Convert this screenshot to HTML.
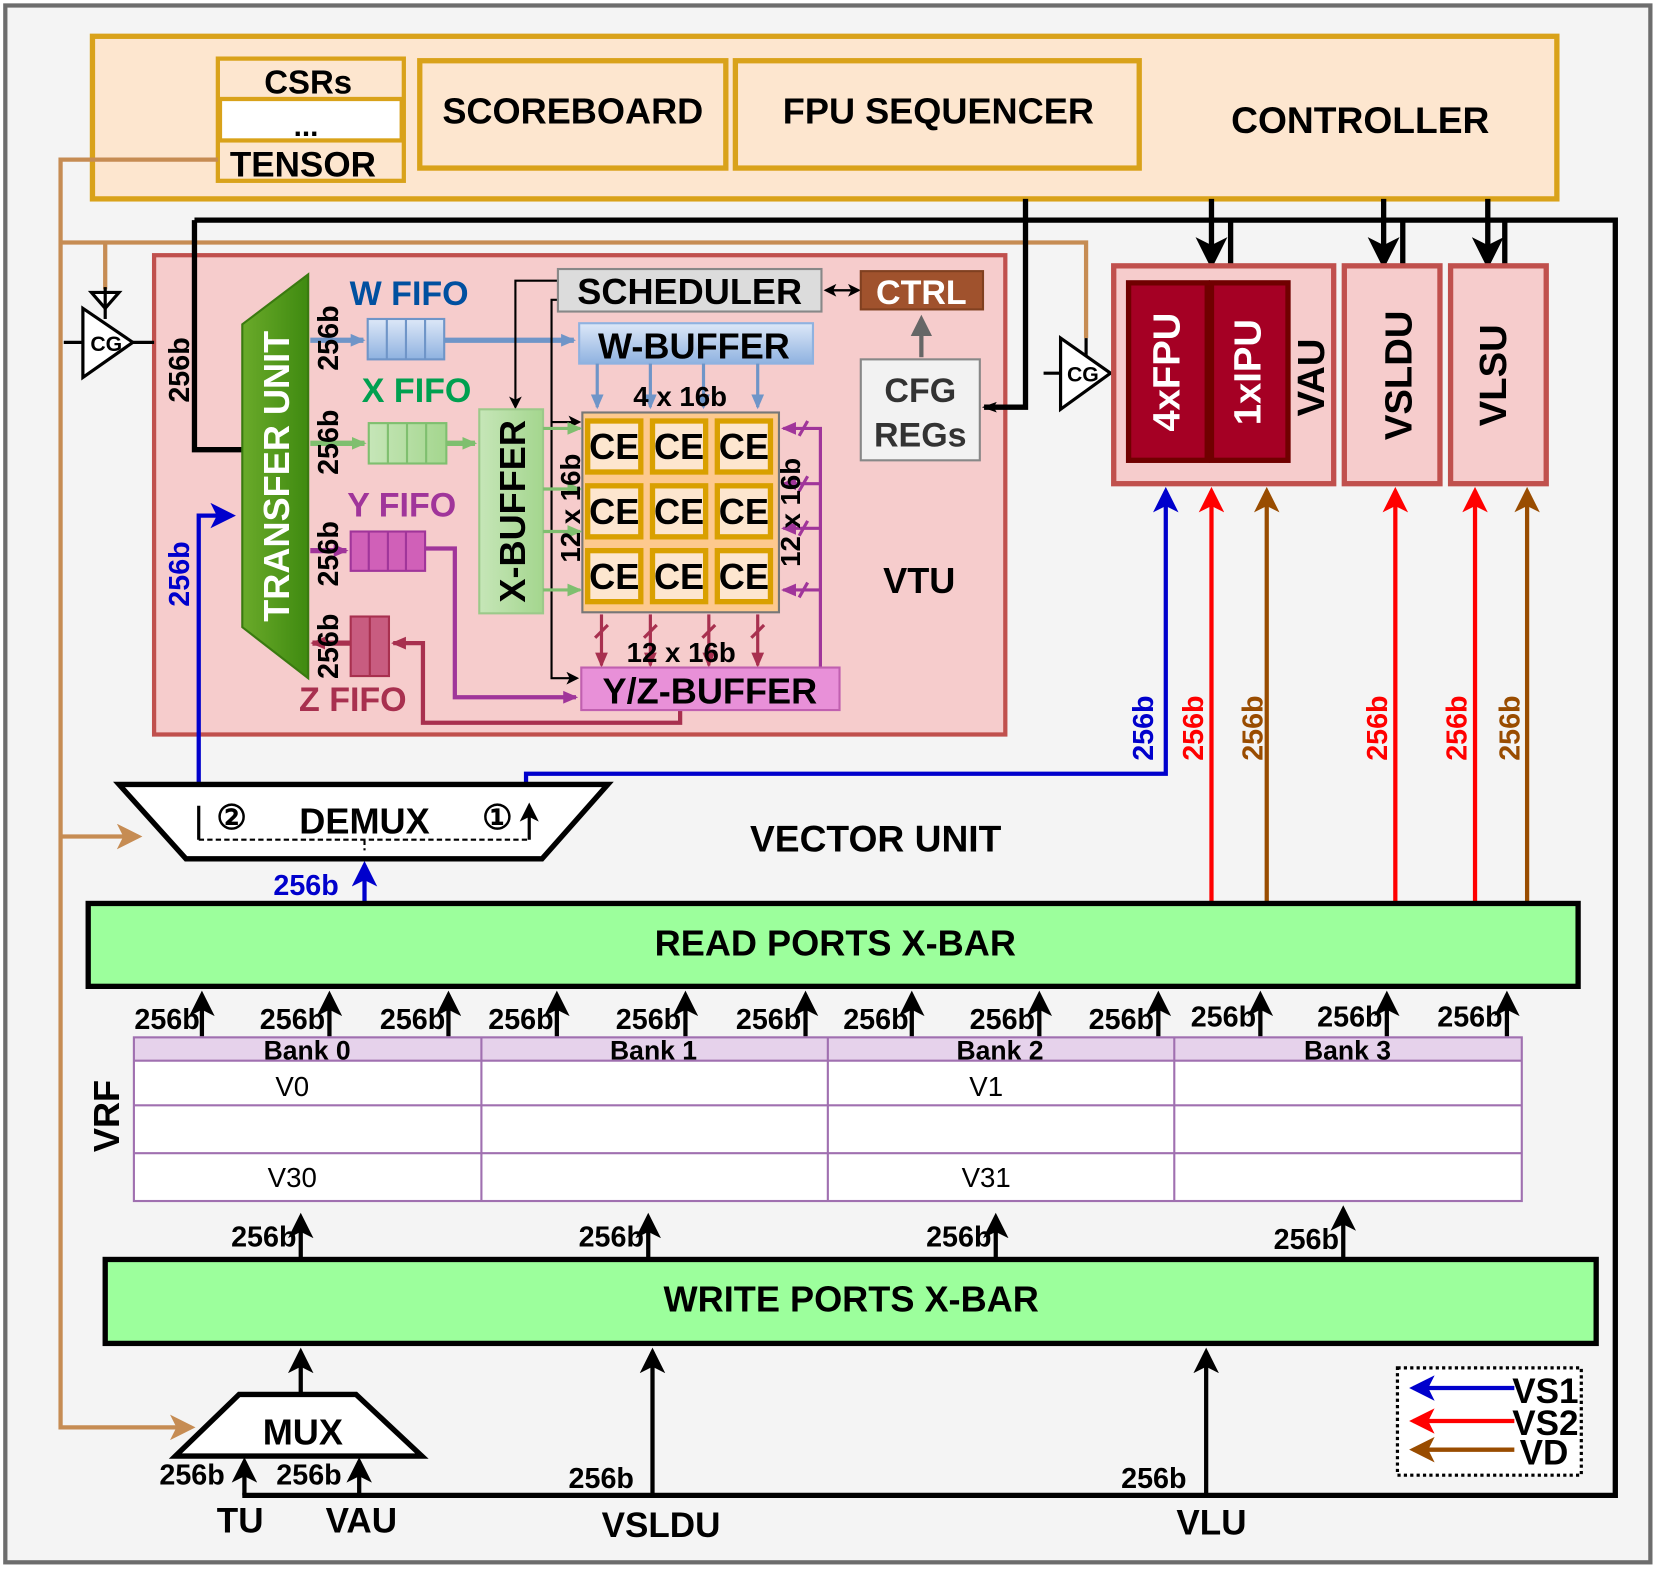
<!DOCTYPE html>
<html><head><meta charset="utf-8"><style>html,body{margin:0;padding:0;background:#fff}svg{display:block}text{font-family:"Liberation Sans",Arial,sans-serif;font-weight:bold}</style></head><body>
<svg width="1661" height="1571" viewBox="0 0 1563 1478" xmlns="http://www.w3.org/2000/svg">
<defs>
<marker id="ak" markerWidth="6" markerHeight="6" refX="5" refY="3" orient="auto" markerUnits="strokeWidth"><path d="M0,0 L6,3 L0,6 L1.5,3z" fill="#000"/></marker>
<marker id="ak2" markerWidth="14" markerHeight="10" refX="12" refY="5" orient="auto" markerUnits="userSpaceOnUse"><path d="M0,0 L14,5 L0,10 L3,5z" fill="#000"/></marker>
<marker id="ab" markerWidth="6" markerHeight="6" refX="5" refY="3" orient="auto" markerUnits="strokeWidth"><path d="M0,0 L6,3 L0,6 L1.5,3z" fill="#0000cc"/></marker>
<marker id="ar" markerWidth="6" markerHeight="6" refX="5" refY="3" orient="auto" markerUnits="strokeWidth"><path d="M0,0 L6,3 L0,6 L1.5,3z" fill="#ff0000"/></marker>
<marker id="ao" markerWidth="6" markerHeight="6" refX="5" refY="3" orient="auto" markerUnits="strokeWidth"><path d="M0,0 L6,3 L0,6 L1.5,3z" fill="#994c00"/></marker>
<marker id="at" markerWidth="6" markerHeight="6" refX="5" refY="3" orient="auto" markerUnits="strokeWidth"><path d="M0,0 L6,3 L0,6 L1.5,3z" fill="#c68c53"/></marker>
<marker id="aw" markerWidth="14" markerHeight="14" refX="12" refY="7" orient="auto" markerUnits="userSpaceOnUse"><path d="M0,1 L14,7 L0,13z" fill="#6f95c8"/></marker>
<marker id="ag" markerWidth="14" markerHeight="14" refX="12" refY="7" orient="auto" markerUnits="userSpaceOnUse"><path d="M0,1 L14,7 L0,13z" fill="#7fbf6f"/></marker>
<marker id="ap" markerWidth="14" markerHeight="14" refX="12" refY="7" orient="auto" markerUnits="userSpaceOnUse"><path d="M0,1 L14,7 L0,13z" fill="#a0359a"/></marker>
<marker id="ac" markerWidth="14" markerHeight="14" refX="12" refY="7" orient="auto" markerUnits="userSpaceOnUse"><path d="M0,1 L14,7 L0,13z" fill="#a8304f"/></marker>
<marker id="ay" markerWidth="5" markerHeight="5" refX="4" refY="2.5" orient="auto" markerUnits="strokeWidth"><path d="M0,0 L5,2.5 L0,5z" fill="#666"/></marker>
<linearGradient id="gw" x1="0" x2="0" y1="0" y2="1"><stop offset="0" stop-color="#dde8f8"/><stop offset="1" stop-color="#8fb2e0"/></linearGradient>
<linearGradient id="gx" x1="0" x2="1"><stop offset="0" stop-color="#c6e6b8"/><stop offset="1" stop-color="#a4d68e"/></linearGradient>
<linearGradient id="gt" x1="0" x2="1"><stop offset="0" stop-color="#6aaa2a"/><stop offset="1" stop-color="#3f8a10"/></linearGradient>
</defs>
<rect x="5" y="5" width="1548" height="1465" fill="#f4f4f4" stroke="#6d6d6d" stroke-width="4"/>
<!-- controller -->
<rect x="87" y="34" width="1378" height="153" fill="#fde6cf" stroke="#d9a21a" stroke-width="5"/>
<rect x="205" y="55" width="175" height="115" fill="#fde6cf" stroke="#d9a21a" stroke-width="4"/>
<rect x="207" y="93" width="171" height="39" fill="#fff" stroke="#d9a21a" stroke-width="4"/>
<text x="290" y="88" font-size="31" text-anchor="middle">CSRs</text>
<text x="288" y="128" font-size="28" text-anchor="middle">...</text>
<text x="285" y="166" font-size="33" text-anchor="middle">TENSOR</text>
<rect x="395" y="57" width="288" height="101" fill="#fde6cf" stroke="#d9a21a" stroke-width="5"/>
<text x="539" y="116" font-size="34" text-anchor="middle">SCOREBOARD</text>
<rect x="692" y="57" width="380" height="101" fill="#fde6cf" stroke="#d9a21a" stroke-width="5"/>
<text x="883" y="116" font-size="34" text-anchor="middle">FPU SEQUENCER</text>
<text x="1280" y="125" font-size="35" text-anchor="middle">CONTROLLER</text>
<!-- tan lines -->
<g fill="none" stroke="#c68c53" stroke-width="4">
<path d="M205,150 H57 V1343 H180" marker-end="url(#at)"/>
<path d="M57,787 H130" marker-end="url(#at)"/>
<path d="M57,228 H1022 V318"/>
<path d="M99,228 V272"/>
</g>
<!-- VTU -->
<rect x="145" y="240" width="801" height="451" fill="#f6cccc" stroke="#c0504d" stroke-width="4"/>
<!-- black bus -->
<g fill="none" stroke="#000" stroke-width="5">
<path d="M183,207 H1520 V1407 H228"/>
<path d="M183,207 V423 H228"/>
<path d="M965,187 V383 H926" marker-end="url(#ak2)"/>
<path d="M1140,187 V248" marker-end="url(#ak)"/><path d="M1158,207 V250"/>
<path d="M1302,187 V248" marker-end="url(#ak)"/><path d="M1320,207 V250"/>
<path d="M1400,187 V248" marker-end="url(#ak)"/><path d="M1416,207 V250"/>
</g>
<text x="865" y="558" font-size="34" text-anchor="middle">VTU</text>
<polygon points="228,305 290,258 290,638 228,590" fill="url(#gt)" stroke="#3a7a10" stroke-width="2"/>
<text transform="translate(272,448) rotate(-90)" font-size="34" fill="#fff" text-anchor="middle">TRANSFER UNIT</text>
<text transform="translate(178,348) rotate(-90)" font-size="27" text-anchor="middle">256b</text>
<!-- CG triangles -->
<g stroke="#000" stroke-width="3" fill="#fff">
<polygon points="78,290 78,355 125,322"/><line x1="60" y1="322" x2="78" y2="322"/><line x1="125" y1="322" x2="145" y2="322"/>
<polygon points="86,275 112,275 99,290" /><line x1="99" y1="270" x2="99" y2="300"/>
<polygon points="998,318 998,385 1045,351"/><line x1="982" y1="351" x2="998" y2="351"/><line x1="1045" y1="351" x2="1062" y2="351"/><line x1="1022" y1="318" x2="1022" y2="335"/>
</g>
<text x="100" y="330" font-size="20" text-anchor="middle">CG</text>
<text x="1019" y="359" font-size="20" text-anchor="middle">CG</text>
<!-- FIFOs -->
<text x="385" y="287" font-size="32" fill="#0050a0" text-anchor="middle">W FIFO</text>
<text x="392" y="378" font-size="32" fill="#00a050" text-anchor="middle">X FIFO</text>
<text x="378" y="486" font-size="32" fill="#a0359a" text-anchor="middle">Y FIFO</text>
<text x="332" y="669" font-size="32" fill="#a8304f" text-anchor="middle">Z FIFO</text>
<g stroke-width="5" fill="none">
<path d="M292,320 H342" stroke="#6f95c8" marker-end="url(#aw)"/>
<path d="M418,320 H540" stroke="#6f95c8" marker-end="url(#aw)"/>
<path d="M292,417 H343" stroke="#7fbf6f" marker-end="url(#ag)"/>
<path d="M420,417 H447" stroke="#7fbf6f" marker-end="url(#ag)"/>
<path d="M292,518 H326" stroke="#a0359a" marker-end="url(#ap)"/>
<path d="M400,516 H428 V656 H542" stroke="#a0359a" stroke-width="4" marker-end="url(#ap)"/>
<path d="M330,605 H294" stroke="#a8304f" marker-end="url(#ac)"/>
<path d="M640,668 V680 H398 V605 H370" stroke="#a8304f" stroke-width="4" marker-end="url(#ac)"/>
</g>
<g font-size="27" text-anchor="middle">
<text transform="translate(318,318) rotate(-90)">256b</text>
<text transform="translate(318,416) rotate(-90)">256b</text>
<text transform="translate(318,521) rotate(-90)">256b</text>
<text transform="translate(318,608) rotate(-90)">256b</text>
</g>
<rect x="346" y="300" width="72" height="38" fill="url(#gw)" stroke="#6f95c8" stroke-width="2"/>
<path d="M364,300V338M382,300V338M400,300V338" stroke="#6f95c8" stroke-width="2"/>
<rect x="347" y="398" width="73" height="38" fill="url(#gx)" stroke="#7fbf6f" stroke-width="2"/>
<path d="M365,398V436M383,398V436M401,398V436" stroke="#7fbf6f" stroke-width="2"/>
<rect x="330" y="500" width="70" height="37" fill="#d060b8" stroke="#a0359a" stroke-width="2"/>
<path d="M347,500V537M365,500V537M382,500V537" stroke="#a0359a" stroke-width="2"/>
<rect x="330" y="580" width="36" height="56" fill="#c85c80" stroke="#a8304f" stroke-width="2"/>
<path d="M348,580V636" stroke="#a8304f" stroke-width="2"/>
<!-- scheduler etc -->
<g fill="none" stroke="#000" stroke-width="2">
<path d="M525,264 H485 V383" marker-end="url(#ak)"/>
<path d="M525,282 H519 V638 H543" marker-end="url(#ak)"/>
<path d="M519,397 H545" marker-end="url(#ak)"/>
<path d="M780,273 H808" marker-end="url(#ak)" /><path d="M800,273 H777" marker-end="url(#ak)"/>
</g>
<rect x="451" y="385" width="60" height="192" fill="url(#gx)" stroke="#9cc98a" stroke-width="2"/>
<text transform="translate(494,481) rotate(-90)" font-size="34" text-anchor="middle">X-BUFFER</text>
<rect x="525" y="253" width="248" height="40" fill="#dcdcdc" stroke="#888" stroke-width="2"/>
<text x="649" y="286" font-size="34" text-anchor="middle">SCHEDULER</text>
<rect x="810" y="255" width="115" height="36" fill="#a0522d" stroke="#804020" stroke-width="2"/>
<text x="867" y="286" font-size="32" fill="#fff" text-anchor="middle">CTRL</text>
<path d="M867,336 V300" stroke="#666" stroke-width="4" marker-end="url(#ay)"/>
<rect x="810" y="338" width="112" height="95" fill="#f2f2f2" stroke="#888" stroke-width="2"/>
<text x="866" y="378" font-size="32" fill="#333" text-anchor="middle">CFG</text>
<text x="866" y="420" font-size="32" fill="#333" text-anchor="middle">REGs</text>
<rect x="545" y="304" width="220" height="38" fill="url(#gw)" stroke="#8fb2e0" stroke-width="2"/>
<text x="653" y="337" font-size="34" text-anchor="middle">W-BUFFER</text>
<g stroke="#6f95c8" stroke-width="3" fill="none">
<path d="M562,342V383" marker-end="url(#aw)"/><path d="M612,342V383" marker-end="url(#aw)"/><path d="M662,342V383" marker-end="url(#aw)"/><path d="M713,342V383" marker-end="url(#aw)"/>
</g>
<text x="640" y="382" font-size="26" text-anchor="middle">4 x 16b</text>
<rect x="548" y="388" width="185" height="188" fill="#fdc98e" stroke="#777" stroke-width="2"/>
<g fill="#fde6cf" stroke="#d9a000" stroke-width="5">
<rect x="553" y="396" width="50" height="48"/><rect x="614" y="396" width="50" height="48"/><rect x="675" y="396" width="50" height="48"/>
<rect x="553" y="457" width="50" height="48"/><rect x="614" y="457" width="50" height="48"/><rect x="675" y="457" width="50" height="48"/>
<rect x="553" y="518" width="50" height="48"/><rect x="614" y="518" width="50" height="48"/><rect x="675" y="518" width="50" height="48"/>
</g>
<g font-size="34" text-anchor="middle">
<text x="578" y="432">CE</text><text x="639" y="432">CE</text><text x="700" y="432">CE</text>
<text x="578" y="493">CE</text><text x="639" y="493">CE</text><text x="700" y="493">CE</text>
<text x="578" y="554">CE</text><text x="639" y="554">CE</text><text x="700" y="554">CE</text>
</g>
<g stroke="#7fbf6f" stroke-width="3" fill="none">
<path d="M511,403H546" marker-end="url(#ag)"/><path d="M511,460H546" marker-end="url(#ag)"/><path d="M511,500H546" marker-end="url(#ag)"/><path d="M511,555H546" marker-end="url(#ag)"/>
</g>
<text transform="translate(546,478) rotate(-90)" font-size="26" text-anchor="middle">12 x 16b</text>
<g stroke="#a0359a" stroke-width="3" fill="none">
<path d="M772,628V403H737" marker-end="url(#ap)"/><path d="M772,455H737" marker-end="url(#ap)"/><path d="M772,497H737" marker-end="url(#ap)"/><path d="M772,555H737" marker-end="url(#ap)"/>
<path d="M752,410l8,-14M752,462l8,-14M752,504l8,-14M752,562l8,-14"/>
</g>
<text transform="translate(753,482) rotate(-90)" font-size="26" text-anchor="middle">12 x 16b</text>
<g stroke="#a8304f" stroke-width="3" fill="none">
<path d="M566,578V626" marker-end="url(#ac)"/><path d="M612,578V626" marker-end="url(#ac)"/><path d="M667,578V626" marker-end="url(#ac)"/><path d="M713,578V626" marker-end="url(#ac)"/>
<path d="M560,600l12,-12M606,600l12,-12M661,600l12,-12M707,600l12,-12"/>
</g>
<text x="641" y="623" font-size="26" text-anchor="middle">12 x 16b</text>
<rect x="547" y="628" width="243" height="40" fill="#e890d8" stroke="#c060b0" stroke-width="2"/>
<text x="668" y="662" font-size="34" text-anchor="middle">Y/Z-BUFFER</text>
<!-- VAU etc -->
<rect x="1048" y="250" width="207" height="205" fill="#f6cccc" stroke="#c0504d" stroke-width="5"/>
<rect x="1062" y="266" width="74" height="167" fill="#a50024" stroke="#700000" stroke-width="5"/>
<rect x="1140" y="266" width="72" height="167" fill="#a50024" stroke="#700000" stroke-width="5"/>
<text transform="translate(1110,350) rotate(-90)" font-size="36" fill="#fff" text-anchor="middle">4xFPU</text>
<text transform="translate(1186,350) rotate(-90)" font-size="36" fill="#fff" text-anchor="middle">1xIPU</text>
<text transform="translate(1246,355) rotate(-90)" font-size="36" text-anchor="middle">VAU</text>
<rect x="1265" y="250" width="90" height="205" fill="#f6cccc" stroke="#c0504d" stroke-width="5"/>
<text transform="translate(1328,353) rotate(-90)" font-size="36" text-anchor="middle">VSLDU</text>
<rect x="1365" y="250" width="90" height="205" fill="#f6cccc" stroke="#c0504d" stroke-width="5"/>
<text transform="translate(1417,353) rotate(-90)" font-size="36" text-anchor="middle">VLSU</text>
<!-- blue paths -->
<g fill="none" stroke="#0000cc" stroke-width="4">
<path d="M187,738 V485 H218" marker-end="url(#ab)"/>
<path d="M495,738 V728 H1097 V462" marker-end="url(#ab)"/>
<path d="M343,848 V814" marker-end="url(#ab)"/>
</g>
<text transform="translate(178,540) rotate(-90)" font-size="27" fill="#0000cc" text-anchor="middle">256b</text>
<text x="288" y="842" font-size="27" fill="#0000cc" text-anchor="middle">256b</text>
<g fill="none" stroke-width="4">
<path d="M1140,850V462" stroke="#ff0000" marker-end="url(#ar)"/>
<path d="M1313,850V462" stroke="#ff0000" marker-end="url(#ar)"/>
<path d="M1388,850V462" stroke="#ff0000" marker-end="url(#ar)"/>
<path d="M1192,850V462" stroke="#994c00" marker-end="url(#ao)"/>
<path d="M1437,850V462" stroke="#994c00" marker-end="url(#ao)"/>
</g>
<g font-size="27" text-anchor="middle">
<text transform="translate(1085,685) rotate(-90)" fill="#0000cc">256b</text>
<text transform="translate(1132,685) rotate(-90)" fill="#ff0000">256b</text>
<text transform="translate(1188,685) rotate(-90)" fill="#994c00">256b</text>
<text transform="translate(1305,685) rotate(-90)" fill="#ff0000">256b</text>
<text transform="translate(1380,685) rotate(-90)" fill="#ff0000">256b</text>
<text transform="translate(1430,685) rotate(-90)" fill="#994c00">256b</text>
</g>
<!-- DEMUX -->
<polygon points="112,738 572,738 510,808 175,808" fill="#fff" stroke="#000" stroke-width="5"/>
<text x="343" y="784" font-size="34" text-anchor="middle">DEMUX</text>
<text x="218" y="780" font-size="32" text-anchor="middle">②</text>
<text x="468" y="780" font-size="32" text-anchor="middle">①</text>
<path d="M187,790 H498 M343,790 V800" stroke="#000" stroke-width="2" stroke-dasharray="5,3" fill="none"/>
<path d="M187,790V758M498,790V758" stroke="#000" stroke-width="3" fill="none" marker-end="url(#ak)"/>
<text x="824" y="801" font-size="35" text-anchor="middle">VECTOR UNIT</text>
<!-- read xbar -->
<rect x="83" y="850" width="1402" height="78" fill="#9cff9c" stroke="#000" stroke-width="5"/>
<text x="786" y="899" font-size="34" text-anchor="middle">READ PORTS X-BAR</text>
<g stroke="#000" stroke-width="4" fill="none">
<path d="M190,975V936" marker-end="url(#ak)"/><path d="M310,975V936" marker-end="url(#ak)"/><path d="M422,975V936" marker-end="url(#ak)"/>
<path d="M524,975V936" marker-end="url(#ak)"/><path d="M645,975V936" marker-end="url(#ak)"/><path d="M758,975V936" marker-end="url(#ak)"/>
<path d="M858,975V936" marker-end="url(#ak)"/><path d="M978,975V936" marker-end="url(#ak)"/><path d="M1090,975V936" marker-end="url(#ak)"/>
<path d="M1186,975V936" marker-end="url(#ak)"/><path d="M1305,975V936" marker-end="url(#ak)"/><path d="M1418,975V936" marker-end="url(#ak)"/>
</g>
<g font-size="27" text-anchor="end">
<text x="188" y="968">256b</text><text x="306" y="968">256b</text><text x="419" y="968">256b</text>
<text x="521" y="968">256b</text><text x="641" y="968">256b</text><text x="754" y="968">256b</text>
<text x="855" y="968">256b</text><text x="974" y="968">256b</text><text x="1086" y="968">256b</text>
<text x="1182" y="966">256b</text><text x="1301" y="966">256b</text><text x="1414" y="966">256b</text>
</g>
<!-- VRF -->
<rect x="126" y="976" width="1306" height="22" fill="#e6d2eb"/>
<rect x="126" y="998" width="1306" height="132" fill="#fff"/>
<g stroke="#a070b0" stroke-width="2" fill="none">
<rect x="126" y="976" width="1306" height="154"/>
<path d="M126,998H1432M126,1040H1432M126,1085H1432M453,976V1130M779,976V1130M1105,976V1130"/>
</g>
<g font-size="25" text-anchor="middle">
<text x="289" y="997">Bank 0</text><text x="615" y="997">Bank 1</text><text x="941" y="997">Bank 2</text><text x="1268" y="997">Bank 3</text>
</g>
<g font-size="26" text-anchor="middle">
<text x="275" y="1031" style="font-weight:normal">V0</text><text x="928" y="1031" style="font-weight:normal">V1</text>
<text x="275" y="1117" style="font-weight:normal">V30</text><text x="928" y="1117" style="font-weight:normal">V31</text>
</g>
<text transform="translate(112,1050) rotate(-90)" font-size="34" text-anchor="middle">VRF</text>
<g stroke="#000" stroke-width="4" fill="none">
<path d="M283,1184V1145" marker-end="url(#ak)"/><path d="M610,1184V1145" marker-end="url(#ak)"/><path d="M937,1184V1145" marker-end="url(#ak)"/><path d="M1264,1184V1138" marker-end="url(#ak)"/>
</g>
<g font-size="27" text-anchor="end">
<text x="279" y="1173">256b</text><text x="606" y="1173">256b</text><text x="933" y="1173">256b</text><text x="1260" y="1175">256b</text>
</g>
<rect x="99" y="1185" width="1403" height="79" fill="#9cff9c" stroke="#000" stroke-width="5"/>
<text x="801" y="1234" font-size="34" text-anchor="middle">WRITE PORTS X-BAR</text>
<!-- MUX -->
<polygon points="165,1370 397,1370 335,1312 225,1312" fill="#fff" stroke="#000" stroke-width="5"/>
<text x="285" y="1359" font-size="34" text-anchor="middle">MUX</text>
<g stroke="#000" stroke-width="4" fill="none">
<path d="M283,1312V1272" marker-end="url(#ak)"/>
<path d="M230,1407V1375" marker-end="url(#ak)"/><path d="M338,1407V1375" marker-end="url(#ak)"/>
<path d="M614,1405V1272" marker-end="url(#ak)"/><path d="M1135,1405V1272" marker-end="url(#ak)"/>
</g>
<g font-size="27">
<text x="150" y="1397">256b</text><text x="260" y="1397">256b</text><text x="535" y="1400">256b</text><text x="1055" y="1400">256b</text>
</g>
<g font-size="33" text-anchor="middle">
<text x="226" y="1442">TU</text><text x="340" y="1442">VAU</text><text x="622" y="1446">VSLDU</text><text x="1140" y="1444">VLU</text>
</g>
<!-- legend -->
<rect x="1315" y="1287" width="173" height="101" fill="#fff" stroke="#000" stroke-width="3" stroke-dasharray="3,3"/>
<path d="M1425,1306H1330" stroke="#0000cc" stroke-width="4" marker-end="url(#ab)"/>
<path d="M1425,1337H1330" stroke="#ff0000" stroke-width="4" marker-end="url(#ar)"/>
<path d="M1425,1364H1330" stroke="#994c00" stroke-width="4" marker-end="url(#ao)"/>
<g font-size="33"><text x="1423" y="1320">VS1</text><text x="1423" y="1350">VS2</text><text x="1430" y="1378">VD</text></g>
</svg>
</body></html>
